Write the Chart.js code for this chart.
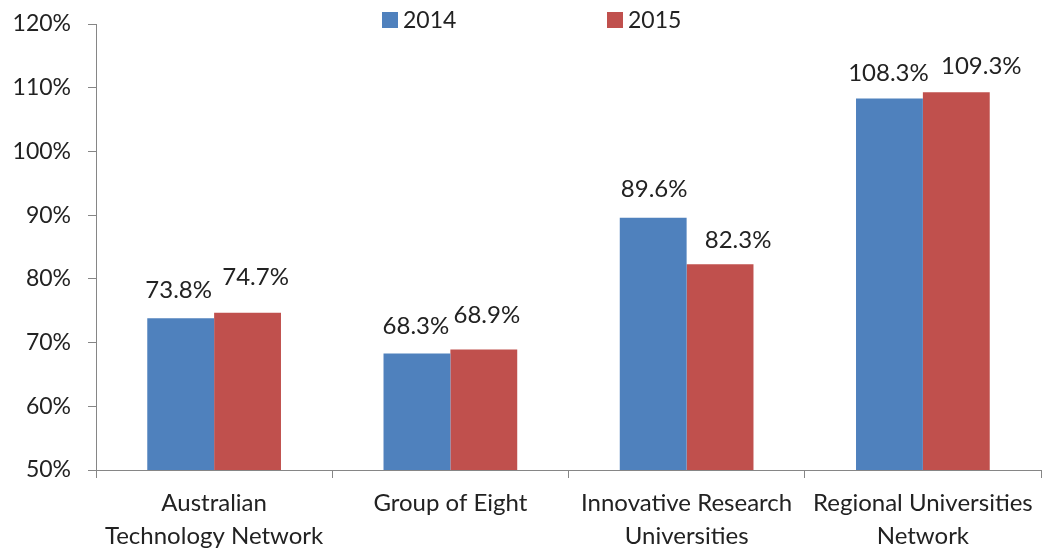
<!DOCTYPE html>
<html>
<head>
<meta charset="utf-8">
<script src="https://cdn.jsdelivr.net/npm/chart.js@4"></script>
<style>
  html, body { margin: 0; padding: 0; background: #fff; }
  #wrap { width: 1043px; height: 554px; }
</style>
</head>
<body>
<div id="wrap"><canvas id="chart"></canvas></div>
<script>
// data
const categories = [
  ["Australian", "Technology Network"],
  "Group of Eight",
  ["Innovative Research", "Universities"],
  ["Regional Universities", "Network"]
]
const seriesNames = ["2014", "2015"]
const values2014 = [73.8, 68.3, 89.6, 108.3]
const values2015 = [74.7, 68.9, 82.3, 109.3]
const yTicks = [50, 60, 70, 80, 90, 100, 110, 120]

const FONT = "Lato"
const TEXT = "#222"
const AXIS = "#868686"

Chart.defaults.font.family = FONT
Chart.defaults.color = TEXT

// legend drawn at the top, over the plot like the original
const topLegend = {
  id: "topLegend",
  afterDraw(chart) {
    const c = chart.ctx
    const spots = [382, 607]
    c.save()
    c.font = "23px " + FONT
    c.textBaseline = "middle"
    chart.data.datasets.forEach((ds, i) => {
      c.fillStyle = ds.backgroundColor
      c.fillRect(spots[i], 12, 16, 16)
      c.fillStyle = TEXT
      c.fillText(ds.label, spots[i] + 21, 21)
    })
    c.restore()
  }
}

// value labels above bars, nudged apart like the original
const barValues = {
  id: "barValues",
  afterDatasetsDraw(chart, args, opts) {
    const c = chart.ctx
    c.save()
    c.font = "24px " + FONT
    c.fillStyle = TEXT
    c.textAlign = "center"
    c.textBaseline = "middle"
    chart.data.datasets.forEach((ds, i) => {
      chart.getDatasetMeta(i).data.forEach((bar, j) => {
        const [dx, dy] = opts.nudge[i][j]
        c.fillText(ds.data[j].toFixed(1) + "%", bar.x + dx, bar.y + dy)
      })
    })
    c.restore()
  }
}

const ctx = document.getElementById("chart")

new Chart(ctx, {
  type: "bar",
  data: {
    labels: categories,
    datasets: [
      {
        label: seriesNames[0],
        data: values2014,
        backgroundColor: "#4F81BD",
        categoryPercentage: 0.566,
        barPercentage: 1.0,
      },
      {
        label: seriesNames[1],
        data: values2015,
        backgroundColor: "#C0504D",
        categoryPercentage: 0.566,
        barPercentage: 1.0,
      },
    ],
  },
  options: {
    responsive: true,
    maintainAspectRatio: false,
    animation: false,
    layout: {
      padding: { top: 24, right: 2, left: 0, bottom: 0 }
    },
    plugins: {
      legend: { display: false },
      tooltip: { enabled: false },
      barValues: {
        nudge: [
          [[-2, -28], [-1, -27], [1, -28], [-1, -25]],
          [[8, -35], [3, -34], [18, -24], [25, -26]],
        ],
      },
    },
    scales: {
      x: {
        grid: {
          offset: true,
          drawOnChartArea: false,
          color: AXIS,
          tickLength: 8,
        },
        border: { color: AXIS },
        ticks: {
          font: { size: 24, lineHeight: 1.375 },
          color: TEXT,
          padding: 9,
          maxRotation: 0,
          autoSkip: false,
        },
        afterFit(scale) {
          scale.height = 84
          scale.paddingLeft = 0
          scale.paddingRight = 0
        },
      },
      y: {
        min: yTicks[0],
        max: yTicks[yTicks.length - 1],
        afterBuildTicks(scale) {
          scale.ticks = yTicks.map(v => ({ value: v }))
        },
        grid: {
          drawOnChartArea: false,
          color: AXIS,
          tickLength: 8,
        },
        border: { color: AXIS },
        ticks: {
          font: { size: 23 },
          color: TEXT,
          padding: 17,
          callback: v => v + "%",
        },
        afterFit(scale) {
          scale.width = 96
          scale.paddingTop = 0
          scale.paddingBottom = 0
        },
      },
    },
  },
  plugins: [topLegend, barValues],
})
</script>
</body>
</html>
